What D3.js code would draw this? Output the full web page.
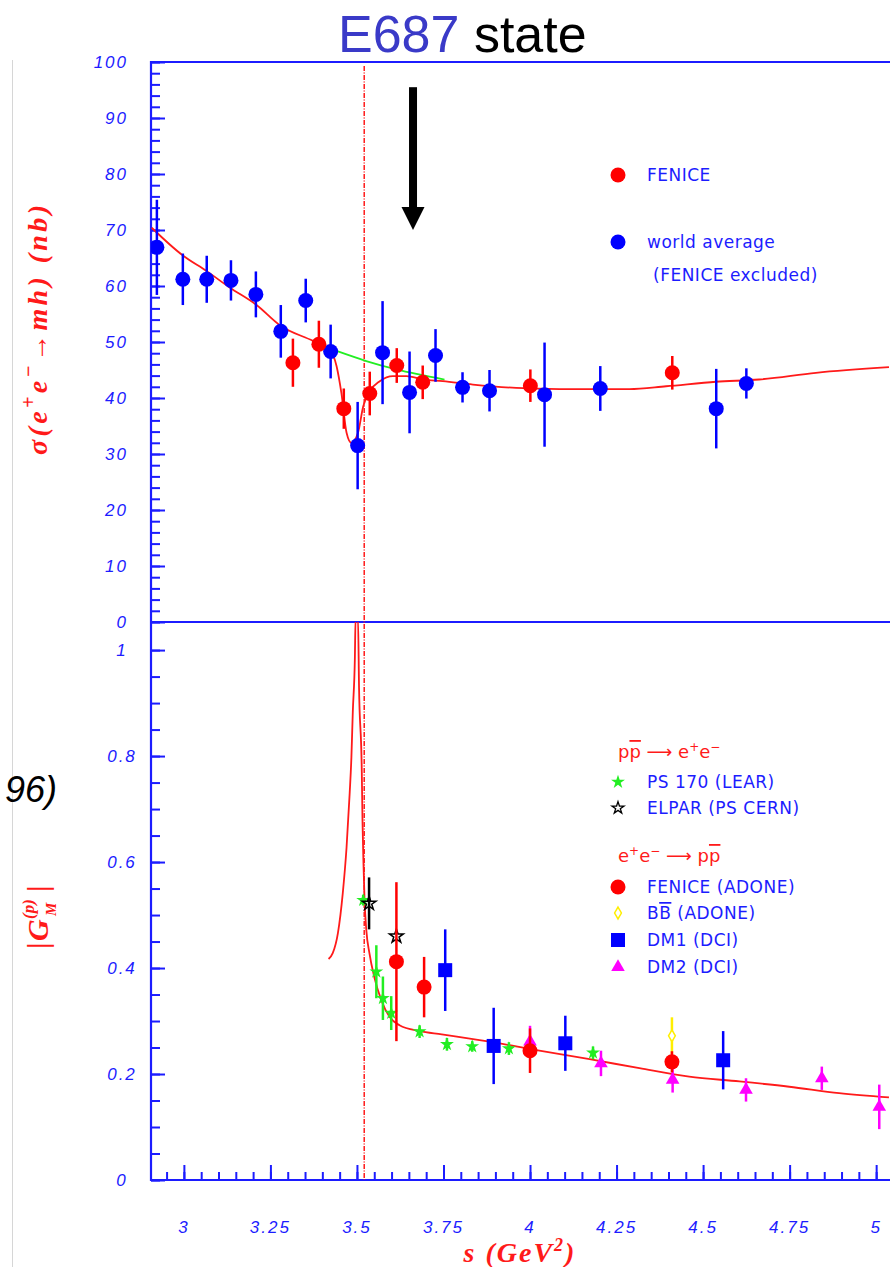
<!DOCTYPE html>
<html><head><meta charset="utf-8">
<script src="https://cdn.jsdelivr.net/npm/d3@7"></script>
<style>
html,body{margin:0;padding:0;background:#fff;}
svg{display:block;}
</style></head>
<body>
<svg id="chart" width="890" height="1267"></svg>
<script>
// ---------- upper panel: sigma(e+e- -> multihadrons) [nb] vs s [GeV^2] ----------
const worldS   = [2.922, 2.997, 3.066, 3.136, 3.208, 3.280, 3.352, 3.424, 3.502, 3.574, 3.652, 3.727, 3.805, 3.883, 4.042, 4.203, 4.538, 4.625];
const worldSig = [66.9, 61.2, 61.2, 61.0, 58.5, 51.9, 57.4, 48.3, 31.5, 48.1, 41.0, 47.6, 41.9, 41.3, 40.6, 41.7, 38.1, 42.6];
const worldErr = [8.5, 4.6, 4.2, 3.6, 4.1, 4.7, 3.9, 4.8, 7.8, 9.2, 7.3, 4.7, 2.7, 3.7, 9.3, 4.0, 7.1, 2.7];

const fenHadS   = [3.315, 3.390, 3.462, 3.537, 3.615, 3.690, 4.001, 4.411];
const fenHadSig = [46.3, 49.6, 38.1, 40.8, 45.8, 42.8, 42.2, 44.5];
const fenHadErr = [4.3, 4.2, 3.6, 3.9, 3.1, 3.0, 2.9, 3.0];

// fitted cross section with the dip near threshold
const fitS   = [2.907, 2.998, 3.065, 3.133, 3.210, 3.277, 3.373, 3.421, 3.441, 3.455, 3.470, 3.484, 3.503, 3.518, 3.537, 3.566, 3.604, 3.643, 3.691, 3.748, 3.835, 3.960, 4.085, 4.287, 4.393, 4.537, 4.662, 4.826, 5.037];
const fitSig = [70.4, 65.4, 62.7, 59.7, 56.6, 53.0, 50.2, 48.7, 45.7, 40.9, 33.8, 32.0, 33.8, 38.5, 41.2, 43.0, 43.9, 43.9, 43.3, 43.0, 42.4, 41.8, 41.6, 41.6, 42.1, 42.9, 43.3, 44.5, 45.5];
// smooth background without the dip
const bgS   = [3.441, 3.527, 3.614, 3.753];
const bgSig = [48.4, 46.6, 45.1, 43.3];

// ---------- lower panel: |G_M(p)| vs s ----------
const ps170S   = [3.518, 3.556, 3.575, 3.599, 3.681, 3.760, 3.833, 3.939, 4.182];
const ps170G   = [0.528, 0.393, 0.343, 0.315, 0.280, 0.256, 0.252, 0.248, 0.240];
const ps170Err = [0.010, 0.050, 0.041, 0.032, 0.012, 0.012, 0.010, 0.012, 0.012];

const elparS   = [3.535, 3.614];
const elparG   = [0.522, 0.460];
const elparErr = [0.049, 0.0];

const fenS   = [3.614, 3.694, 4.000, 4.410];
const fenG   = [0.412, 0.364, 0.244, 0.223];
const fenErr = [0.150, 0.057, 0.042, 0.020];

const bbS   = [4.410];
const bbG   = [0.272];
const bbErr = [0.035];

const dm1S   = [3.755, 3.895, 4.102, 4.558];
const dm1G   = [0.396, 0.253, 0.258, 0.226];
const dm1Err = [0.077, 0.072, 0.052, 0.055];

const dm2S   = [4.000, 4.205, 4.412, 4.624, 4.843, 5.009];
const dm2G   = [0.261, 0.220, 0.189, 0.170, 0.192, 0.138];
const dm2Err = [0.030, 0.024, 0.024, 0.022, 0.022, 0.042];

// fitted form factor (narrow resonance just below threshold)
const gmS = [3.418, 3.430, 3.445, 3.459, 3.470, 3.479, 3.484, 3.488, 3.494, 3.496, 3.503, 3.506, 3.514, 3.516, 3.519, 3.522, 3.527, 3.536, 3.550, 3.570, 3.594, 3.623, 3.681, 3.745, 3.883, 4.027, 4.172, 4.316, 4.460, 4.605, 4.749, 4.893, 5.037];
const gmG = [0.417, 0.428, 0.466, 0.541, 0.628, 0.730, 0.798, 0.883, 0.985, 1.060, 1.060, 0.930, 0.770, 0.679, 0.594, 0.528, 0.472, 0.428, 0.383, 0.340, 0.308, 0.292, 0.281, 0.275, 0.261, 0.244, 0.228, 0.211, 0.195, 0.186, 0.176, 0.164, 0.156];

// ---------- axes ----------
const xTickVals   = [3, 3.25, 3.5, 3.75, 4, 4.25, 4.5, 4.75, 5];
const xTickText   = ["3", "3.25", "3.5", "3.75", "4", "4.25", "4.5", "4.75", "5"];
const yTopTickVals = [0, 10, 20, 30, 40, 50, 60, 70, 80, 90, 100];
const yTopTickText = ["0", "10", "20", "30", "40", "50", "60", "70", "80", "90", "100"];
const yBotTickVals = [0, 0.2, 0.4, 0.6, 0.8, 1];
const yBotTickText = ["0", "0.2", "0.4", "0.6", "0.8", "1"];

const thresholdS = 3.521;   // 4 m_p^2
const arrowS = 3.662, arrowFrom = 95.5, arrowTo = 70;

// ---------- drawing ----------
const AX = "#1c1cff", RED = "#ff1a1a";
const svg = d3.select("#chart");
const X0 = 151, X1 = 890, TOP = 62, MID = 622, BOT = 1180;

const x    = d3.scaleLinear().domain([2.905, 5.04]).range([X0, X1]);
const yTop = d3.scaleLinear().domain([0, 100]).range([MID, TOP]);
const yBot = d3.scaleLinear().domain([0, 1.053]).range([BOT, MID]);

const defs = svg.append("defs");
defs.append("clipPath").attr("id", "clipTop").append("rect")
  .attr("x", X0).attr("y", TOP).attr("width", X1 - X0).attr("height", MID - TOP);
defs.append("clipPath").attr("id", "clipBot").append("rect")
  .attr("x", X0).attr("y", MID).attr("width", X1 - X0).attr("height", BOT - MID);

// page border line at the left
svg.append("line").attr("x1", 12.5).attr("x2", 12.5).attr("y1", 60).attr("y2", 1267)
  .attr("stroke", "#d6d6d6").attr("stroke-width", 1);

// title
const title = svg.append("text").attr("x", 338).attr("y", 52)
  .attr("font-family", "'Liberation Sans', Arial, sans-serif").attr("font-size", 52);
title.append("tspan").attr("fill", "#3a3ac8").text("E687");
title.append("tspan").attr("fill", "#000").text(" state");

// side note fragment
svg.append("text").attr("x", 57).attr("y", 802).attr("text-anchor", "end")
  .attr("font-family", "'Liberation Sans', Arial, sans-serif").attr("font-style", "italic")
  .attr("font-size", 36).attr("fill", "#000").text("96)");

function styleTicks(g) {
  g.select(".domain").remove();
  g.selectAll("line").attr("stroke", AX).attr("stroke-width", 2);
  g.selectAll("text").remove();
}

// upper y axis ticks (inward)
svg.append("g").attr("transform", `translate(${X0},0)`)
  .call(d3.axisRight(yTop).tickValues(d3.range(0, 101, 2)).tickSize(9).tickFormat(""))
  .call(styleTicks);
svg.append("g").attr("transform", `translate(${X0},0)`)
  .call(d3.axisRight(yTop).tickValues(yTopTickVals).tickSize(14).tickFormat(""))
  .call(styleTicks);
// lower y axis ticks
svg.append("g").attr("transform", `translate(${X0},0)`)
  .call(d3.axisRight(yBot).tickValues(d3.range(0, 21).map(i => i / 20)).tickSize(9).tickFormat(""))
  .call(styleTicks);
svg.append("g").attr("transform", `translate(${X0},0)`)
  .call(d3.axisRight(yBot).tickValues(yBotTickVals).tickSize(14).tickFormat(""))
  .call(styleTicks);
// x axis ticks (bottom, pointing up)
svg.append("g").attr("transform", `translate(0,${BOT})`)
  .call(d3.axisTop(x).tickValues(d3.range(59, 101).map(i => i / 20)).tickSize(8).tickFormat(""))
  .call(styleTicks);
svg.append("g").attr("transform", `translate(0,${BOT})`)
  .call(d3.axisTop(x).tickValues(xTickVals).tickSize(15).tickFormat(""))
  .call(styleTicks);

// frame lines
const frame = svg.append("g").attr("stroke", AX).attr("stroke-width", 2.2);
frame.append("line").attr("x1", X0).attr("x2", X0).attr("y1", TOP - 1).attr("y2", BOT + 1);
[TOP, MID, BOT].forEach(yy => frame.append("line").attr("x1", X0).attr("x2", X1).attr("y1", yy).attr("y2", yy));

// tick labels
const tickFont = "'Liberation Sans', Arial, sans-serif";
svg.append("g").selectAll("text").data(yTopTickVals).join("text")
  .attr("x", 128).attr("y", d => yTop(d) + 6).attr("text-anchor", "end")
  .attr("font-family", tickFont).attr("font-style", "italic").attr("font-size", 17)
  .attr("letter-spacing", 2).attr("fill", AX)
  .text((d, i) => yTopTickText[i]);
svg.append("g").selectAll("text").data(yBotTickVals).join("text")
  .attr("x", 122).attr("y", d => yBot(d) + 6).attr("text-anchor", "middle")
  .attr("font-family", tickFont).attr("font-style", "italic").attr("font-size", 17)
  .attr("letter-spacing", 2).attr("fill", AX)
  .text((d, i) => yBotTickText[i]);
svg.append("g").selectAll("text").data(xTickVals).join("text")
  .attr("x", d => x(d)).attr("y", BOT + 53).attr("text-anchor", "middle")
  .attr("font-family", tickFont).attr("font-style", "italic").attr("font-size", 17)
  .attr("letter-spacing", 2).attr("fill", AX)
  .text((d, i) => xTickText[i]);

// axis titles
const serif = "'Liberation Serif', 'Times New Roman', serif";
const xt = svg.append("text").attr("x", 520).attr("y", 1262).attr("text-anchor", "middle")
  .attr("font-family", serif).attr("font-style", "italic").attr("font-weight", "bold")
  .attr("font-size", 28).attr("letter-spacing", 2).attr("fill", RED);
xt.append("tspan").text("s (GeV");
xt.append("tspan").attr("dy", -11).attr("font-size", 18).text("2");
xt.append("tspan").attr("dy", 11).text(")");

const yt = svg.append("text").attr("transform", "translate(47,330) rotate(-90)")
  .attr("text-anchor", "middle").attr("font-family", serif).attr("font-style", "italic")
  .attr("font-weight", "bold").attr("font-size", 28).attr("fill", RED)
  .attr("textLength", 250).attr("lengthAdjust", "spacing");
yt.append("tspan").text("σ(e");
yt.append("tspan").attr("dy", -12).attr("font-size", 20).text("+");
yt.append("tspan").attr("dy", 12).text("e");
yt.append("tspan").attr("dy", -12).attr("font-size", 20).text("−");
yt.append("tspan").attr("dy", 12).text("→mh) (nb)");

const gm = svg.append("g").attr("transform", "translate(48,916) rotate(-90)")
  .attr("font-family", serif).attr("font-style", "italic").attr("font-weight", "bold").attr("fill", RED);
gm.append("text").attr("x", -33).attr("y", 0).attr("font-size", 30).attr("font-style", "normal").text("|");
gm.append("text").attr("x", -25).attr("y", 0).attr("font-size", 30).text("G");
gm.append("text").attr("x", -3).attr("y", -14).attr("font-size", 17).text("(p)");
gm.append("text").attr("x", 0).attr("y", 8).attr("font-size", 15).text("M");
gm.append("text").attr("x", 24).attr("y", 0).attr("font-size", 30).attr("font-style", "normal").text("|");

// threshold line
svg.append("line").attr("x1", x(thresholdS)).attr("x2", x(thresholdS))
  .attr("y1", TOP + 4).attr("y2", BOT)
  .attr("stroke", RED).attr("stroke-width", 1.5).attr("stroke-dasharray", "5,1.5,1,1.5");

// arrow
const ax = x(arrowS);
svg.append("rect").attr("x", ax - 4).attr("y", yTop(arrowFrom)).attr("width", 8)
  .attr("height", yTop(arrowTo) - 22 - yTop(arrowFrom)).attr("fill", "#000");
svg.append("path").attr("d", `M${ax - 11.5},${yTop(arrowTo) - 23} L${ax + 11.5},${yTop(arrowTo) - 23} L${ax},${yTop(arrowTo)} Z`).attr("fill", "#000");

// curves
const lineTop = d3.line().x(d => x(d[0])).y(d => yTop(d[1])).curve(d3.curveMonotoneX);
const lineBot = d3.line().x(d => x(d[0])).y(d => yBot(d[1])).curve(d3.curveMonotoneX);
svg.append("path").attr("clip-path", "url(#clipTop)")
  .attr("d", lineTop(bgS.map((s, i) => [s, bgSig[i]])))
  .attr("fill", "none").attr("stroke", "#22ee22").attr("stroke-width", 1.8);
svg.append("path").attr("clip-path", "url(#clipTop)")
  .attr("d", lineTop(fitS.map((s, i) => [s, fitSig[i]])))
  .attr("fill", "none").attr("stroke", RED).attr("stroke-width", 1.8);
svg.append("path").attr("clip-path", "url(#clipBot)")
  .attr("d", lineBot(gmS.map((s, i) => [s, gmG[i]])))
  .attr("fill", "none").attr("stroke", RED).attr("stroke-width", 1.8);

// data points with error bars
function series(S, V, E, yS, color, drawMarker, clip) {
  const rows = S.map((s, i) => ({ s, v: V[i], e: E[i] }));
  const g = svg.append("g").attr("clip-path", clip);
  g.selectAll("line").data(rows.filter(d => d.e > 0)).join("line")
    .attr("x1", d => x(d.s)).attr("x2", d => x(d.s))
    .attr("y1", d => yS(d.v - d.e)).attr("y2", d => yS(d.v + d.e))
    .attr("stroke", color).attr("stroke-width", 2.5);
  rows.forEach(d => drawMarker(g, x(d.s), yS(d.v)));
}
const circle = c => (g, cx, cy) => g.append("circle").attr("cx", cx).attr("cy", cy).attr("r", 7.5).attr("fill", c);
const square = c => (g, cx, cy) => g.append("rect").attr("x", cx - 7).attr("y", cy - 7).attr("width", 14).attr("height", 14).attr("fill", c);
const sym = (type, size, fill, stroke, sw) => (g, cx, cy) => g.append("path")
  .attr("transform", `translate(${cx},${cy})`).attr("d", d3.symbol(type, size)())
  .attr("fill", fill).attr("stroke", stroke).attr("stroke-width", sw);

series(worldS, worldSig, worldErr, yTop, "#0000ff", circle("#0000ff"), "url(#clipTop)");
series(fenHadS, fenHadSig, fenHadErr, yTop, "#ff0000", circle("#ff0000"), "url(#clipTop)");

series(ps170S, ps170G, ps170Err, yBot, "#22ee22", sym(d3.symbolStar, 60, "#22ee22", "none", 0), "url(#clipBot)");
series(elparS, elparG, elparErr, yBot, "#000", sym(d3.symbolStar, 60, "none", "#000", 1.5), "url(#clipBot)");
series(bbS, bbG, bbErr, yBot, "#ffee00", sym(d3.symbolDiamond, 40, "#fff", "#ffee00", 1.5), "url(#clipBot)");
series(dm1S, dm1G, dm1Err, yBot, "#0000ff", square("#0000ff"), "url(#clipBot)");
series(dm2S, dm2G, dm2Err, yBot, "#ff00ff", sym(d3.symbolTriangle, 80, "#ff00ff", "none", 0), "url(#clipBot)");
series(fenS, fenG, fenErr, yBot, "#ff0000", circle("#ff0000"), "url(#clipBot)");

// legends
const legFont = "'DejaVu Sans', Verdana, sans-serif";
const legText = (tx, ty, str) => svg.append("text").attr("x", tx).attr("y", ty)
  .attr("font-family", legFont).attr("font-size", 17).attr("letter-spacing", 0.5)
  .attr("fill", AX).text(str);
const legG = svg.append("g");
circle("#ff0000")(legG, 618, 175);
legText(647, 181, "FENICE");
circle("#0000ff")(legG, 618, 242);
legText(647, 248, "world average");
legText(653, 281, "(FENICE excluded)");

function header(ty, parts) {
  const t = svg.append("text").attr("x", 618).attr("y", ty)
    .attr("font-family", legFont).attr("font-size", 18).attr("fill", RED);
  parts.forEach(p => {
    const ts = t.append("tspan").text(p.t);
    if (p.dy) ts.attr("dy", p.dy);
    if (p.fs) ts.attr("font-size", p.fs);
    if (p.over) ts.style("text-decoration", "overline");
  });
}
header(758, [{ t: "p" }, { t: "p", over: true }, { t: " ⟶ e" }, { t: "+", dy: -7, fs: 12 }, { t: "e", dy: 7 }, { t: "−", dy: -7, fs: 12 }]);
header(862, [{ t: "e" }, { t: "+", dy: -7, fs: 12 }, { t: "e", dy: 7 }, { t: "−", dy: -7, fs: 12 }, { t: " ⟶ p", dy: 7 }, { t: "p", over: true }]);

sym(d3.symbolStar, 60, "#22ee22", "none", 0)(legG, 618, 782);
legText(647, 788, "PS 170 (LEAR)");
sym(d3.symbolStar, 45, "none", "#000", 1.3)(legG, 618, 808);
legText(647, 814, "ELPAR (PS CERN)");
circle("#ff0000")(legG, 618, 887);
legText(647, 893, "FENICE (ADONE)");
sym(d3.symbolDiamond, 40, "#fff", "#ffee00", 1.5)(legG, 618, 913);
const bbt = legText(647, 919, "");
bbt.append("tspan").text("B");
bbt.append("tspan").style("text-decoration", "overline").text("B");
bbt.append("tspan").text(" (ADONE)");
square("#0000ff")(legG, 618, 940);
legText(647, 946, "DM1 (DCI)");
sym(d3.symbolTriangle, 80, "#ff00ff", "none", 0)(legG, 618, 967);
legText(647, 973, "DM2 (DCI)");
</script>
</body></html>
